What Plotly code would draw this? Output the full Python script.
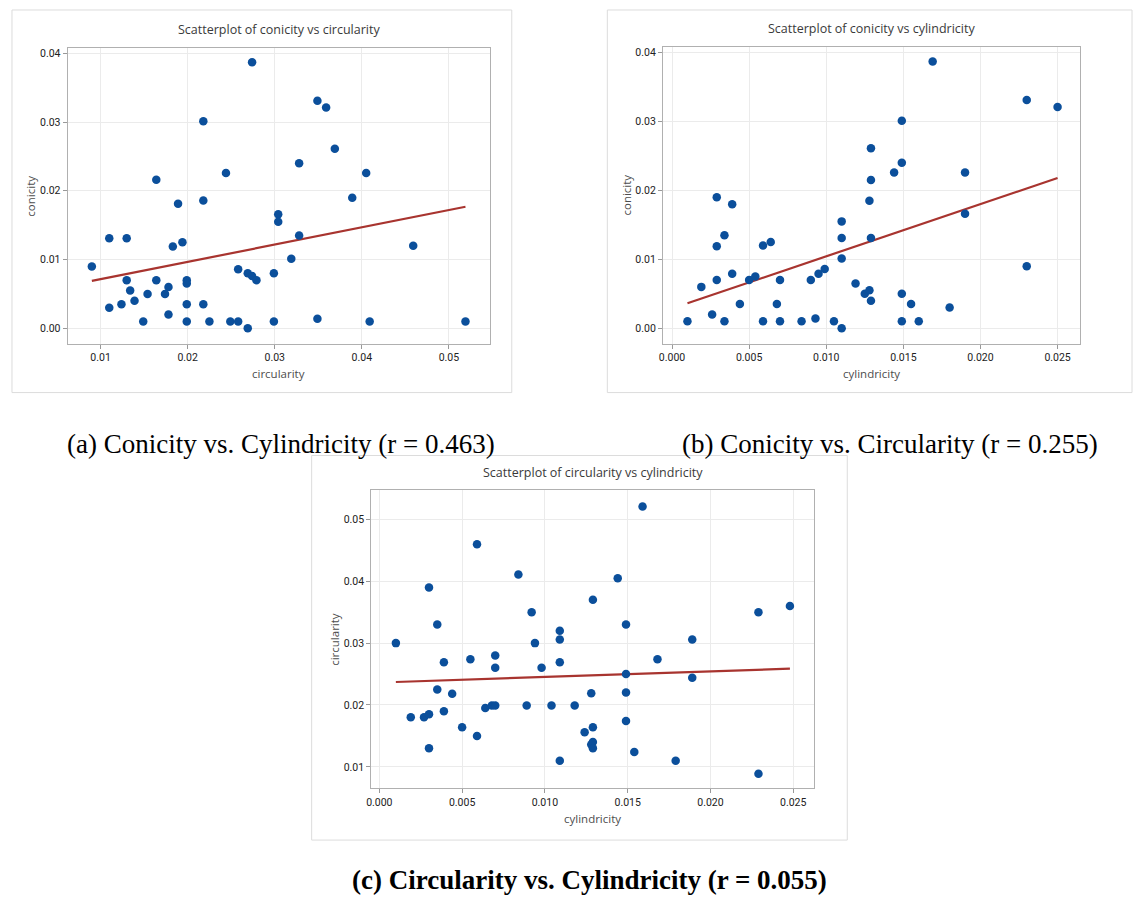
import numpy as np
import plotly.graph_objects as go

# (a) panel: conicity vs circularity
a_circularity = [0.009, 0.011, 0.011, 0.013, 0.013, 0.0134, 0.0124, 0.0139, 0.0149, 0.0154,
                 0.0164, 0.0164, 0.0174, 0.0178, 0.0178, 0.0183, 0.0189, 0.0194, 0.0199, 0.0199,
                 0.0199, 0.0199, 0.0218, 0.0218, 0.0218, 0.0225, 0.0244, 0.0249, 0.0258, 0.0258,
                 0.0269, 0.0269, 0.0274, 0.0279, 0.0274, 0.0299, 0.0299, 0.0304, 0.0304, 0.0319,
                 0.0328, 0.0328, 0.0349, 0.0349, 0.0359, 0.0369, 0.0389, 0.0405, 0.0409, 0.0459,
                 0.0519]
a_conicity = [0.0090, 0.0131, 0.0030, 0.0131, 0.0070, 0.0055, 0.0035, 0.0040, 0.0010, 0.0050,
              0.0216, 0.0070, 0.0050, 0.0060, 0.0020, 0.0119, 0.0181, 0.0125, 0.0070, 0.0065,
              0.0035, 0.0010, 0.0301, 0.0186, 0.0035, 0.0010, 0.0226, 0.0010, 0.0010, 0.0086,
              0.0000, 0.0080, 0.0076, 0.0070, 0.0387, 0.0010, 0.0080, 0.0166, 0.0155, 0.0101,
              0.0240, 0.0135, 0.0331, 0.0014, 0.0321, 0.0261, 0.0190, 0.0226, 0.0010, 0.0120,
              0.0010]

# (b) panel: conicity vs cylindricity
b_cylindricity = [0.0010, 0.0019, 0.0026, 0.0029, 0.0029, 0.0029, 0.0034, 0.0034, 0.0039, 0.0039,
                  0.0044, 0.0050, 0.0054, 0.0059, 0.0059, 0.0064, 0.0068, 0.0070, 0.0070, 0.0084,
                  0.0090, 0.0093, 0.0095, 0.0099, 0.0105, 0.0110, 0.0110, 0.0110, 0.0110, 0.0119,
                  0.0125, 0.0128, 0.0128, 0.0129, 0.0129, 0.0129, 0.0129, 0.0144, 0.0149, 0.0149,
                  0.0149, 0.0149, 0.0155, 0.0160, 0.0169, 0.0180, 0.0190, 0.0190, 0.0230, 0.0230,
                  0.0250]
b_conicity = [0.0010, 0.0060, 0.0020, 0.0190, 0.0119, 0.0070, 0.0135, 0.0010, 0.0180, 0.0079,
              0.0035, 0.0070, 0.0075, 0.0120, 0.0010, 0.0125, 0.0035, 0.0070, 0.0010, 0.0010,
              0.0070, 0.0014, 0.0079, 0.0086, 0.0010, 0.0155, 0.0131, 0.0101, 0.0000, 0.0065,
              0.0050, 0.0055, 0.0185, 0.0261, 0.0215, 0.0131, 0.0040, 0.0226, 0.0301, 0.0240,
              0.0050, 0.0010, 0.0035, 0.0010, 0.0387, 0.0030, 0.0226, 0.0166, 0.0331, 0.0090,
              0.0321]

# (c) panel: circularity vs cylindricity
c_cylindricity = [0.0010, 0.0019, 0.0027, 0.0030, 0.0030, 0.0030, 0.0035, 0.0035, 0.0039, 0.0039,
                  0.0044, 0.0050, 0.0055, 0.0059, 0.0059, 0.0064, 0.0068, 0.0070, 0.0070, 0.0070,
                  0.0084, 0.0089, 0.0092, 0.0094, 0.0098, 0.0104, 0.0109, 0.0109, 0.0109, 0.0109,
                  0.0118, 0.0124, 0.0128, 0.0128, 0.0129, 0.0129, 0.0129, 0.0129, 0.0144, 0.0149,
                  0.0149, 0.0149, 0.0149, 0.0154, 0.0159, 0.0168, 0.0179, 0.0189, 0.0189, 0.0229,
                  0.0229, 0.0248]
c_circularity = [0.0300, 0.0180, 0.0180, 0.0185, 0.0390, 0.0130, 0.0330, 0.0225, 0.0269, 0.0190,
                 0.0218, 0.0164, 0.0274, 0.0460, 0.0150, 0.0195, 0.0199, 0.0280, 0.0260, 0.0199,
                 0.0411, 0.0199, 0.0350, 0.0300, 0.0260, 0.0199, 0.0320, 0.0306, 0.0269, 0.0110,
                 0.0199, 0.0156, 0.0219, 0.0136, 0.0370, 0.0164, 0.0140, 0.0130, 0.0405, 0.0330,
                 0.0250, 0.0220, 0.0174, 0.0124, 0.0521, 0.0274, 0.0110, 0.0306, 0.0244, 0.0350,
                 0.0089, 0.0360]

captions = ["(a) Conicity vs. Cylindricity (r = 0.463)",
            "(b) Conicity vs. Circularity (r = 0.255)",
            "<b>(c) Circularity vs. Cylindricity (r = 0.055)</b>"]
titles = ["Scatterplot of conicity vs circularity",
          "Scatterplot of conicity vs cylindricity",
          "Scatterplot of circularity vs cylindricity"]
xlabels = ["circularity", "cylindricity", "cylindricity"]
ylabels = ["conicity", "conicity", "circularity"]

W, H = 1135, 899
DOT = "#0b4f9b"
LINE = "#a8342f"
FONT = "Open Sans, Noto Sans, sans-serif"
TICKFONT = "Liberation Sans Narrow, Roboto, sans-serif"

panels = [
    dict(x=a_circularity, y=a_conicity, px=(63, 487), py=(47, 343),
         xr=(0.00623, 0.0547), yr=(-0.00223, 0.04077), xdt=0.01, xf=".2f", ydt=0.01, yf=".2f",
         frame=(7, 9, 509, 392)),
    dict(x=b_cylindricity, y=b_conicity, px=(661, 1080), py=(46, 343),
         xr=(-0.00058, 0.02647), yr=(-0.00223, 0.0408), xdt=0.005, xf=".3f", ydt=0.01, yf=".2f",
         frame=(605, 9, 1132, 392)),
    dict(x=c_cylindricity, y=c_circularity, px=(368, 813), py=(490, 788),
         xr=(-0.00048, 0.02628), yr=(0.00656, 0.05468), xdt=0.005, xf=".3f", ydt=0.01, yf=".2f",
         frame=(308, 455, 846, 840)),
]

fig = go.Figure()
shapes, annotations = [], []
layout_axes = {}
for i, p in enumerate(panels):
    n = "" if i == 0 else str(i + 1)
    xa, ya = "x" + n, "y" + n
    x = np.array(p["x"]); y = np.array(p["y"])
    slope, inter = np.polyfit(x, y, 1)
    xs = np.array([x.min(), x.max()])
    fig.add_trace(go.Scatter(x=xs, y=inter + slope * xs, mode="lines",
                             line=dict(color=LINE, width=2.2), xaxis=xa, yaxis=ya,
                             showlegend=False, hoverinfo="skip"))
    fig.add_trace(go.Scatter(x=x, y=y, mode="markers",
                             marker=dict(color=DOT, size=8.5, line=dict(width=0)),
                             xaxis=xa, yaxis=ya, showlegend=False))
    common = dict(showgrid=True, gridcolor="#ebebeb", gridwidth=1, zeroline=False,
                  showline=True, linecolor="#b0b0b0", linewidth=1.3, mirror=True,
                  ticks="outside", ticklen=4, tickcolor="#999999",
                  tickfont=dict(family=TICKFONT, size=10.5, color="#222222"))
    layout_axes["xaxis" + n] = dict(common, domain=[p["px"][0] / W, p["px"][1] / W],
                                    range=list(p["xr"]), dtick=p["xdt"], tick0=0,
                                    tickformat=p["xf"], anchor=ya)
    layout_axes["yaxis" + n] = dict(common, domain=[1 - p["py"][1] / H, 1 - p["py"][0] / H],
                                    range=list(p["yr"]), dtick=p["ydt"], tick0=0,
                                    tickformat=p["yf"], anchor=xa)
    fx0, fy0, fx1, fy1 = p["frame"]
    shapes.append(dict(type="rect", xref="paper", yref="paper",
                       x0=fx0 / W, x1=fx1 / W, y0=1 - fy1 / H, y1=1 - fy0 / H,
                       line=dict(color="#dcdcdc", width=1), layer="below"))
    cx = (p["px"][0] + p["px"][1]) / 2
    annotations.append(dict(text=titles[i], x=cx / W, y=1 - (p["py"][0] - 18) / H,
                            xref="paper", yref="paper", showarrow=False,
                            xanchor="center", yanchor="middle",
                            font=dict(family=FONT, size=12.5, color="#3a3a3a")))
    annotations.append(dict(text=xlabels[i], x=cx / W, y=1 - (p["py"][1] + 30) / H,
                            xref="paper", yref="paper", showarrow=False,
                            xanchor="center", yanchor="middle",
                            font=dict(family=FONT, size=11.5, color="#4d4d4d")))
    cy = (p["py"][0] + p["py"][1]) / 2
    annotations.append(dict(text=ylabels[i], x=(p["px"][0] - 37) / W, y=1 - cy / H,
                            xref="paper", yref="paper", showarrow=False, textangle=-90,
                            xanchor="center", yanchor="middle",
                            font=dict(family=FONT, size=11.5, color="#4d4d4d")))

cap_pos = [(277, 443), (889, 443), (587, 880)]
cap_sizes = [27, 27, 27]
for txt, (cxp, cyp), sz in zip(captions, cap_pos, cap_sizes):
    annotations.append(dict(text=txt, x=cxp / W, y=1 - cyp / H, xref="paper", yref="paper",
                            showarrow=False, xanchor="center", yanchor="middle",
                            font=dict(family="Liberation Serif, Times New Roman, serif",
                                      size=sz, color="#000000")))

fig.update_layout(width=W, height=H, margin=dict(l=0, r=0, t=0, b=0),
                  paper_bgcolor="white", plot_bgcolor="white",
                  shapes=shapes, annotations=annotations, **layout_axes)
fig.write_html("out.html")
